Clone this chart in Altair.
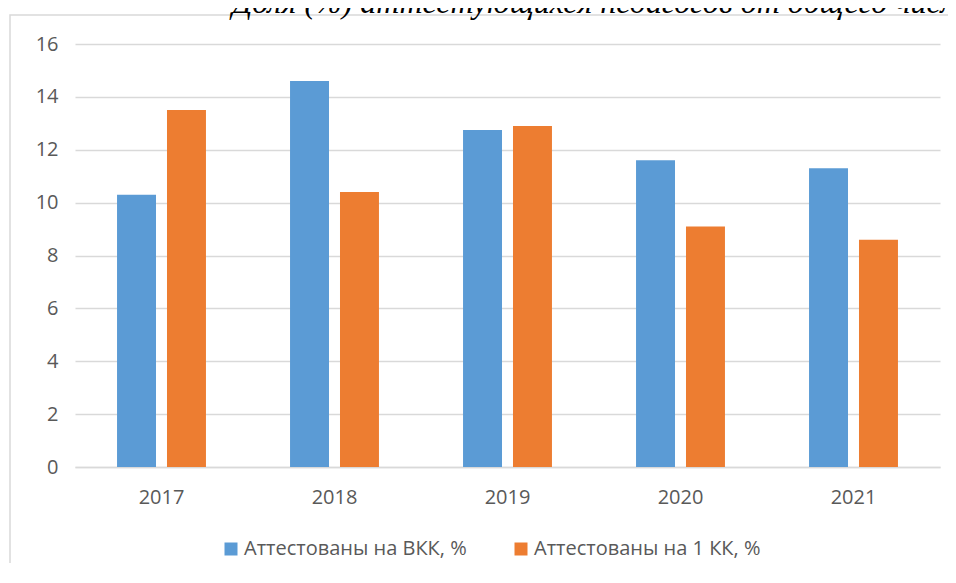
import altair as alt
import pandas as pd

years = ["2017", "2018", "2019", "2020", "2021"]
vkk = [10.3, 14.6, 12.75, 11.6, 11.3]
kk1 = [13.5, 10.4, 12.9, 9.1, 8.6]
series_names = ["Аттестованы на ВКК, %", "Аттестованы на 1 КК, %"]
colors = ["#5B9BD5", "#ED7D31"]
y_ticks = [0, 2, 4, 6, 8, 10, 12, 14, 16]
title_text = "Доля (%) аттестующихся педагогов от общего числа педагогов"

rows = []
for i, yr in enumerate(years):
    rows.append({"year": yr, "series": series_names[0], "value": vkk[i]})
    rows.append({"year": yr, "series": series_names[1], "value": kk1[i]})
df = pd.DataFrame(rows)
one = pd.DataFrame({"t": [title_text]})

FONT = "Open Sans"
GRAY = "#595959"
GRID = "#D9D9D9"

bars = alt.Chart(df).mark_bar().encode(
    x=alt.X("year:N", sort=years, title=None,
            scale=alt.Scale(paddingInner=0.486, paddingOuter=0.243),
            axis=alt.Axis(labelAngle=0, labelFontSize=20, labelColor=GRAY, labelFont=FONT,
                          domainColor=GRID, domainWidth=1.5, ticks=False, tickSize=0,
                          labelPadding=20, grid=False)),
    xOffset=alt.XOffset("series:N", sort=series_names,
                        scale=alt.Scale(paddingInner=0.22, paddingOuter=0)),
    y=alt.Y("value:Q", title=None, scale=alt.Scale(domain=[0, 16], nice=False),
            axis=alt.Axis(values=y_ticks, labelFontSize=20, labelColor=GRAY, labelFont=FONT,
                          domain=False, ticks=False, tickSize=0, labelPadding=17,
                          grid=True, gridColor=GRID, gridWidth=1.5)),
    color=alt.Color("series:N", sort=series_names,
                    scale=alt.Scale(domain=series_names, range=colors),
                    legend=alt.Legend(title=None, orient="none", legendX=146, legendY=495,
                                      direction="horizontal", symbolType="square",
                                      symbolSize=169, symbolStrokeWidth=0,
                                      labelFontSize=20, labelFont=FONT, labelColor=GRAY,
                                      labelOffset=3, columnPadding=44, labelLimit=400)),
)

frame = alt.Chart(one).mark_rect(filled=False, stroke=GRID, strokeWidth=1.5).encode(
    x=alt.value(-65), x2=alt.value(1200), y=alt.value(-29), y2=alt.value(1200)
)

title = alt.Chart(one).mark_text(
    align="left", baseline="alphabetic", font="Liberation Serif", fontStyle="italic",
    fontSize=32, color="black"
).encode(x=alt.value(157), y=alt.value(-31.3), text="t:N")

chart = alt.layer(frame, bars, title).properties(
    width=865, height=423,
    autosize=alt.AutoSizeParams(type="none"),
    padding={"left": 67, "top": 36, "right": 8, "bottom": 96},
).configure_view(stroke=None)

chart.save("out.html", embed_options={"renderer": "svg", "actions": False})
